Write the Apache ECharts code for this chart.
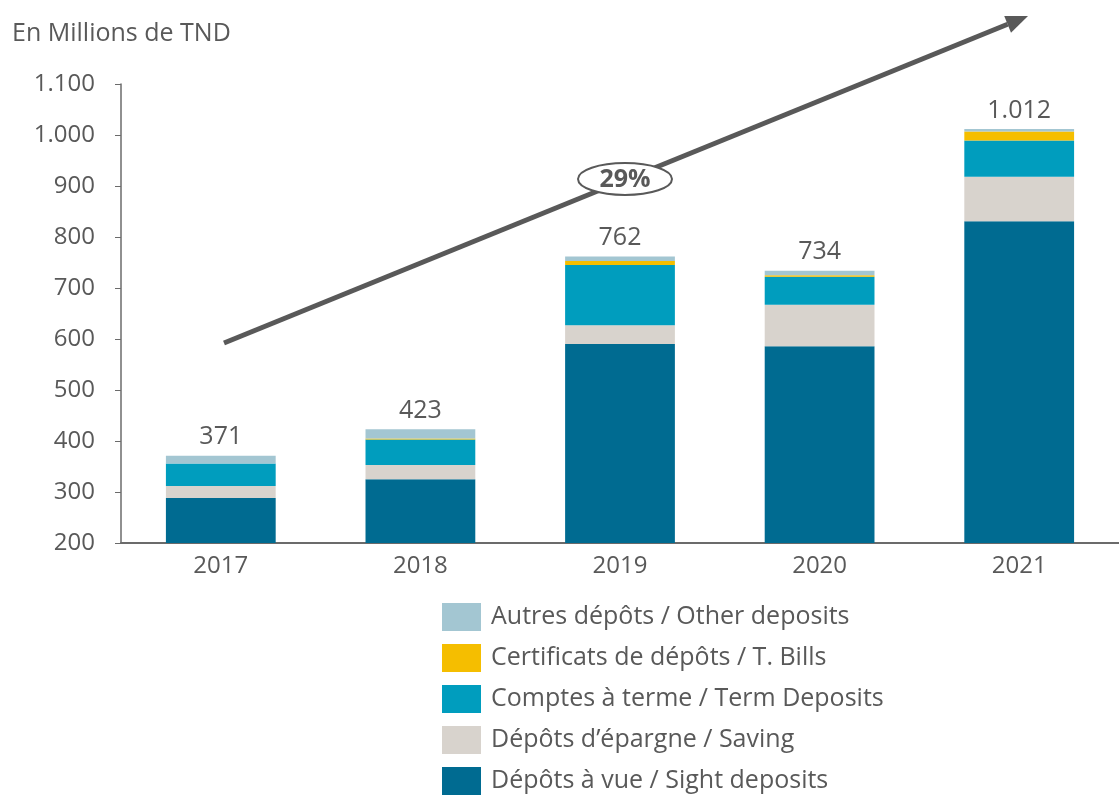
<!DOCTYPE html>
<html>
<head>
<meta charset="utf-8">
<script src="https://cdn.jsdelivr.net/npm/echarts@6/dist/echarts.min.js"></script>
<style>
    html, body { margin: 0; padding: 0; background: #fff; }
    #main { width: 1119px; height: 796px; }
</style>
</head>
<body>
<div id="main"></div>
<script>
// data (millions TND)
let years = ['2017', '2018', '2019', '2020', '2021'];
let sight = [288, 325, 590, 586, 831];
let saving = [24, 28, 37, 81, 87];
let term = [44, 50, 118, 55, 71];
let bills = [0, 2, 8, 3, 18];
let other = [15, 18, 9, 9, 5];
let yTicks = [200, 1100, 100]; // min, max, step
let growthLabel = '29%';

let names = {
    sight: 'Dépôts à vue / Sight deposits',
    saving: 'Dépôts d’épargne / Saving',
    term: 'Comptes à terme / Term Deposits',
    bills: 'Certificats de dépôts / T. Bills',
    other: 'Autres dépôts / Other deposits'
};
let colors = {
    sight: '#006b91',
    saving: '#d8d3cd',
    term: '#009dbe',
    bills: '#f5be00',
    other: '#a3c6d2'
};
let txt = '#595959',
    font = 'Open Sans';

let totals = years.map((y, i) => sight[i] + saving[i] + term[i] + bills[i] + other[i]);
let fmt = v => String(v).replace(/\B(?=(\d{3})+(?!\d))/g, '.');

let chart = echarts.init(document.getElementById('main'));

function mkSeries(key, data){
    return {
        name: names[key],
        type: 'bar',
        stack: 'dep',
        barWidth: '55%',
        data: data,
        itemStyle: { color: colors[key] }
    };
}
let series = [
    mkSeries('sight', sight),
    mkSeries('saving', saving),
    mkSeries('term', term),
    mkSeries('bills', bills),
    mkSeries('other', other)
];
series[4].label = {
    show: true,
    position: 'top',
    distance: 6,
    color: txt,
    fontFamily: font,
    fontSize: 25,
    formatter: p => fmt(totals[p.dataIndex])
};

// arrow geometry (decoration)
let a0 = [224, 343], a1 = [1028, 16];
let ang = Math.atan2(a1[1] - a0[1], a1[0] - a0[0]);
let head = 22, half = 9;
let bx = a1[0] - head * Math.cos(ang), by = a1[1] - head * Math.sin(ang);
let arrowPts = [
    a1,
    [bx + half * Math.sin(ang), by - half * Math.cos(ang)],
    [bx - half * Math.sin(ang), by + half * Math.cos(ang)]
];

let option = {
    animation: false,
    textStyle: { fontFamily: font },
    grid: { left: 121, right: -10, top: 84, bottom: 253 },
    legend: {
        orient: 'vertical',
        left: 442,
        top: 603,
        padding: 0,
        height: 193,
        itemWidth: 39,
        itemHeight: 28,
        itemGap: 13,
        icon: 'rect',
        data: [names.other, names.bills, names.term, names.saving, names.sight],
        textStyle: { color: txt, fontSize: 25, lineHeight: 28, fontFamily: font, padding: [0, 0, 0, 5] }
    },
    xAxis: {
        type: 'category',
        data: years,
        axisTick: { show: false },
        axisLine: { lineStyle: { color: '#6b6b6b', width: 2 } },
        axisLabel: { color: txt, fontSize: 24, margin: 11, fontFamily: font }
    },
    yAxis: {
        type: 'value',
        min: yTicks[0],
        max: yTicks[1],
        interval: yTicks[2],
        splitLine: { show: false },
        axisLine: { show: true, lineStyle: { color: '#6b6b6b', width: 1.5 } },
        axisTick: { show: true, length: 6, lineStyle: { color: '#6b6b6b' } },
        axisLabel: { color: txt, fontSize: 24, margin: 26, fontFamily: font, formatter: v => fmt(v) }
    },
    series: series,
    graphic: [
        {
            type: 'text', left: 12, top: 21,
            style: { text: 'En Millions de TND', fill: txt, fontSize: 25, fontFamily: font }
        },
        {
            type: 'line', z: 10,
            shape: { x1: a0[0], y1: a0[1], x2: bx, y2: by },
            style: { stroke: '#595959', lineWidth: 5 }
        },
        {
            type: 'polygon', z: 10,
            shape: { points: arrowPts },
            style: { fill: '#595959' }
        },
        {
            type: 'ellipse', z: 11,
            shape: { cx: 625, cy: 179, rx: 47, ry: 16 },
            style: { fill: '#fff', stroke: '#595959', lineWidth: 2 }
        },
        {
            type: 'text', z: 12, x: 625, y: 180,
            style: { text: growthLabel, fill: '#595959', fontSize: 25, fontWeight: 'bold', fontFamily: font, align: 'center', verticalAlign: 'middle' }
        }
    ]
};
chart.setOption(option);
</script>
</body>
</html>
